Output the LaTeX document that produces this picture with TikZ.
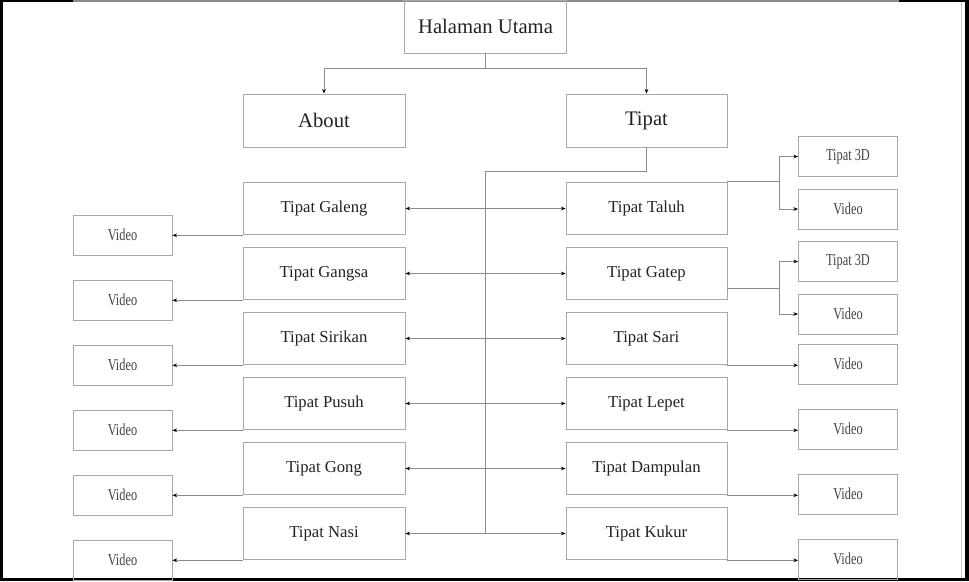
\documentclass[tikz,border=0pt]{standalone}
\usepackage{fontspec}
\setmainfont{Liberation Serif}
\newfontfamily\narrowf{Liberation Serif}[FakeStretch=0.74]
\usetikzlibrary{arrows.meta,calc}
\definecolor{boxline}{HTML}{A8A8A8}
\definecolor{conline}{HTML}{8C8C8C}
\definecolor{txt}{HTML}{222222}
\begin{document}
\begin{tikzpicture}[x={(0.75pt,0)},y={(0,-0.75pt)},
  bigbox/.style={draw=boxline,line width=0.7pt,minimum width=121.5pt,minimum height=39.75pt,inner sep=0pt,text=txt,font=\fontsize{15.5}{17}\selectfont},
  itembox/.style={draw=boxline,line width=0.7pt,minimum width=121.5pt,minimum height=39.5pt,inner sep=0pt,text=txt,font=\fontsize{12.5}{14}\selectfont},
  vidbox/.style={draw=boxline,line width=0.7pt,minimum width=74.25pt,minimum height=30pt,inner sep=0pt,text=txt!85,font=\narrowf\fontsize{12.5}{14}\selectfont},
  con/.style={draw=conline,line width=0.7pt},
  tip/.style={-{Stealth[length=3.5pt,width=2.8pt,color=black]}},
  dtip/.style={{Stealth[length=3.5pt,width=2.8pt,color=black]}-{Stealth[length=3.5pt,width=2.8pt,color=black]}}
]
\useasboundingbox (0,0) rectangle (969,581);
% frame
\fill[white] (0,0) rectangle (969,581);
\draw[boxline!60,line width=0.6pt] (961,2) -- (961,578);
\fill[black] (0,0) rectangle (2.5,581);
\fill[black] (0,578) rectangle (969,581);
\fill[black] (965,0) rectangle (969,581);
\fill[black] (0,0) rectangle (73,2);
\fill[black] (899,0) rectangle (969,2);
\draw[conline,line width=0.9pt] (73,1) -- (899,1);

% top level
\node[bigbox] (H) at (485.5,26.5) {Halaman Utama};
\node[bigbox] (A) at (324,120.5) {About};
\node[bigbox,minimum width=120.75pt] (T) at (646.5,120.5) {Tipat};
\coordinate (hj) at (485.5,68);
\draw[con] (H.south) -- (hj);
\draw[con,tip] (hj) -| (A.north);
\draw[con,tip] (hj) -| (T.north);

% left column
\foreach \n/\t [count=\i from 0] in {L1/Tipat Galeng,L2/Tipat Gangsa,L3/Tipat Sirikan,L4/Tipat Pusuh,L5/Tipat Gong,L6/Tipat Nasi}{
  \node[itembox] (\n) at (324,{208.5+65*\i}) {\t};
  \node[vidbox] (\n v) at (122.5,{235+65*\i}) {Video};
  \draw[con,tip] (\n.south west) -- (\n.south west -| \n v.east);
}
% right column
\foreach \n/\t [count=\i from 0] in {R1/Tipat Taluh,R2/Tipat Gatep,R3/Tipat Sari,R4/Tipat Lepet,R5/Tipat Dampulan,R6/Tipat Kukur}{
  \node[itembox,minimum width=120.75pt] (\n) at (646.5,{208.5+65*\i}) {\t};
}
% row connectors
\foreach \i in {1,...,6}{
  \draw[con,dtip] (L\i.east) -- (R\i.west);
}
% trunk
\coordinate (tk) at (485.5,171);
\coordinate (tb) at (485.5,533.5);
\draw[con] (T.south) |- (tk) -- (tb);

% right videos / 3D
\node[vidbox] (R1d) at (848,156.5) {Tipat 3D};
\node[vidbox] (R1v) at (848,209) {Video};
\node[vidbox] (R2d) at (848,261.5) {Tipat 3D};
\node[vidbox] (R2v) at (848,314) {Video};
\node[vidbox] (R3v) at (848,364) {Video};
\node[vidbox] (R4v) at (848,429) {Video};
\node[vidbox] (R5v) at (848,494) {Video};
\node[vidbox] (R6v) at (848,559) {Video};

\coordinate (j1) at (779,182);
\draw[con] (R1.north east) -- (R1.north east -| j1);
\draw[con,tip] (j1) |- (R1d.west);
\draw[con,tip] (j1) |- (R1v.west);

\coordinate (g0) at (727,288);
\coordinate (j2) at (779,288);
\draw[con] (g0) -- (j2);
\draw[con,tip] (j2) |- (R2d.west);
\draw[con,tip] (j2) |- (R2v.west);

\foreach \i in {3,...,6}{
  \draw[con,tip] (R\i.south east) -- (R\i.south east -| R\i v.west);
}
\end{tikzpicture}
\end{document}
